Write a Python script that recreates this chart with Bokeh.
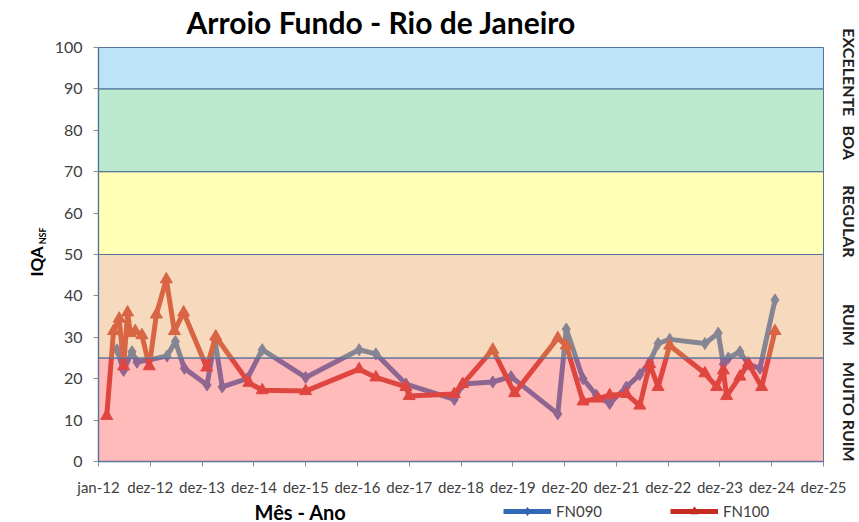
import pandas as pd
from bokeh.plotting import figure
from bokeh.models import Range1d, FixedTicker, LinearAxis, BoxAnnotation, Legend, LegendItem, Label
from bokeh.embed import file_html
from bokeh.resources import INLINE

# ---------------- data ----------------
title_text = "Arroio Fundo - Rio de Janeiro"
x_label_text = "Mês - Ano"
y_label_text = "IQA"
y_label_sub = "NSF"
x_tick_labels = ["jan-12", "dez-12", "dez-13", "dez-14", "dez-15", "dez-16", "dez-17",
                 "dez-18", "dez-19", "dez-20", "dez-21", "dez-22", "dez-23", "dez-24", "dez-25"]
y_ticks = [0, 10, 20, 30, 40, 50, 60, 70, 80, 90, 100]

band_names = ["MUITO RUIM", "RUIM", "REGULAR", "BOA", "EXCELENTE"]
band_bottoms = [0, 25, 50, 70, 90]
band_tops = [25, 50, 70, 90, 100]
band_colors = ["#FF6666", "#EDAA6C", "#FFFF5A", "#6ACF93", "#6CC2EA"]
band_label_pos = [12, 33, 58, 77, 94]

fn090_dates = ["2012-05-10", "2012-06-26", "2012-08-24", "2012-09-28", "2012-12-19",
               "2013-04-28", "2013-06-26", "2013-08-28", "2014-02-04", "2014-03-31",
               "2014-05-22", "2014-11-14", "2015-02-28", "2015-12-31", "2017-01-11",
               "2017-05-09", "2017-12-07", "2018-11-13", "2019-01-11", "2019-08-11",
               "2019-12-18", "2020-11-11", "2021-01-10", "2021-05-08", "2021-08-10",
               "2021-11-12", "2022-03-10", "2022-06-12", "2022-08-21", "2022-10-19",
               "2023-01-09", "2023-09-14", "2023-12-17", "2024-01-22", "2024-02-26",
               "2024-05-18", "2024-07-16", "2024-10-06", "2025-01-20"]
fn090_values = [27.0, 22.0, 26.5, 24.0, 24.5,
                25.5, 29.0, 22.5, 18.5, 29.5,
                18.0, 20.0, 27.0, 20.3, 27.0,
                26.0, 18.7, 15.0, 18.7, 19.2,
                20.5, 11.5, 32.0, 20.0, 16.0,
                14.0, 18.0, 21.0, 24.0, 28.5,
                29.5, 28.5, 31.0, 23.5, 25.0,
                26.5, 23.5, 22.5, 39.0]

fn100_dates = ["2012-02-28", "2012-04-16", "2012-05-26", "2012-06-26", "2012-07-24",
               "2012-08-12", "2012-09-16", "2012-11-02", "2012-12-24", "2013-02-12",
               "2013-04-23", "2013-06-19", "2013-08-23", "2014-02-02", "2014-04-06",
               "2014-11-26", "2015-02-28", "2015-12-31", "2017-01-11", "2017-05-09",
               "2017-12-07", "2017-12-30", "2018-11-13", "2019-01-11", "2019-08-11",
               "2020-01-11", "2020-11-11", "2021-01-10", "2021-05-08", "2021-08-21",
               "2021-11-12", "2022-03-10", "2022-06-12", "2022-08-21", "2022-10-19",
               "2023-01-09", "2023-09-14", "2023-12-06", "2024-01-22", "2024-02-14",
               "2024-05-18", "2024-07-16", "2024-10-18", "2025-01-20"]
fn100_values = [11.0, 31.5, 34.5, 23.0, 36.0,
                31.0, 31.5, 30.5, 23.0, 35.5,
                44.0, 31.5, 36.0, 22.7, 30.2,
                19.0, 17.2, 17.0, 22.3, 20.3,
                18.0, 15.8, 16.3, 18.7, 27.0,
                16.5, 29.8, 28.0, 14.5, 15.2,
                16.0, 16.3, 13.5, 23.5, 18.0,
                28.0, 21.3, 18.0, 22.0, 15.8,
                20.5, 23.7, 18.0, 31.5]

BASE = pd.Timestamp("2012-01-01")
TICK_STEP = 365


def to_days(dates):
    return [(pd.Timestamp(d) - BASE).days for d in dates]


x090 = to_days(fn090_dates)
x100 = to_days(fn100_dates)
x_ticks = [i * TICK_STEP for i in range(len(x_tick_labels))]
X0, X1 = x_ticks[0], x_ticks[-1]
Y0, Y1 = y_ticks[0], y_ticks[-1]

FONT = "Lato"
TXT = "#404040"

# ---------------- layout (pixels) ----------------
W, H = 859, 522
FRAME_LEFT = 52                     # the frame covers the rest of the canvas
PLOT_L, PLOT_R, PLOT_T, PLOT_B = 98, 823, 47, 461   # value area inside it
kx = (X1 - X0) / (PLOT_R - PLOT_L)
ky = (Y1 - Y0) / (PLOT_B - PLOT_T)
x_range = Range1d(X0 - (PLOT_L - FRAME_LEFT) * kx, X1 + (W - PLOT_R) * kx)
y_range = Range1d(Y0 - (H - PLOT_B) * ky, Y1 + PLOT_T * ky)

p = figure(width=W, height=H, output_backend="svg", toolbar_location=None,
           x_range=x_range, y_range=y_range,
           min_border_left=FRAME_LEFT, min_border_right=0, min_border_top=0, min_border_bottom=0,
           background_fill_color="white", border_fill_color="white")
p.outline_line_color = None
p.xgrid.grid_line_color = None
p.ygrid.grid_line_color = None

# main axes, fixed at the value-area edges
p.xaxis.ticker = FixedTicker(ticks=x_ticks)
p.xaxis.major_label_overrides = {t: lab for t, lab in zip(x_ticks, x_tick_labels)}
p.xaxis.fixed_location = Y0
p.xaxis.bounds = (X0, X1)
p.yaxis.ticker = FixedTicker(ticks=y_ticks)
p.yaxis.fixed_location = X0
p.yaxis.bounds = (Y0, Y1)
for ax in (p.xaxis[0], p.yaxis[0]):
    ax.axis_line_color = "#5B7DA8"
    ax.axis_line_width = 1.5
    ax.major_tick_line_color = "#8C8C8C"
    ax.major_tick_out = 5
    ax.major_tick_in = 0
    ax.minor_tick_line_color = None
    ax.major_label_text_font = FONT
    ax.major_label_text_color = TXT
p.xaxis.major_label_text_font_size = "15px"
p.yaxis.major_label_text_font_size = "16px"
p.xaxis.major_label_standoff = 11
p.yaxis.major_label_standoff = 11

# y-axis title "IQA" with subscript "NSF" (extra left axis)
ysub_pos = 54.5
ylab = LinearAxis(ticker=FixedTicker(ticks=[ysub_pos]), major_label_overrides={ysub_pos: y_label_sub},
                  bounds=(Y0, Y1))
ylab.major_label_orientation = "vertical"
ylab.major_label_text_font = FONT
ylab.major_label_text_font_size = "9px"
ylab.major_label_text_font_style = "bold"
ylab.major_label_text_color = "black"
ylab.major_label_standoff = 4
ylab.axis_label = y_label_text
ylab.axis_label_text_font = FONT
ylab.axis_label_text_font_size = "17px"
ylab.axis_label_text_font_style = "bold"
ylab.axis_label_text_color = "black"
ylab.axis_label_standoff = -12
ylab.axis_line_color = None
ylab.major_tick_line_color = None
ylab.minor_tick_line_color = None
ylab.major_tick_out = 0
ylab.major_tick_in = 0
p.add_layout(ylab, "left")

# right axis with band names, fixed at the right edge of the value area
right = LinearAxis(ticker=FixedTicker(ticks=band_label_pos),
                   major_label_overrides={pos: name for pos, name in zip(band_label_pos, band_names)})
right.fixed_location = X1
right.major_label_orientation = "vertical"
right.major_label_text_font = FONT
right.major_label_text_font_size = "16px"
right.major_label_text_font_style = "bold"
right.major_label_text_color = "#202020"
right.axis_line_color = None
right.major_tick_line_color = None
right.minor_tick_line_color = None
right.major_tick_out = 0
right.major_tick_in = 0
right.major_label_standoff = 16
p.add_layout(right, "right")

# series
c090 = "#3267B5"
c100 = "#C62C22"
l1 = p.line(x090, fn090_values, line_color=c090, line_width=5)
m1 = p.scatter(x090, fn090_values, marker="diamond", size=12, fill_color=c090, line_color=c090)
l2 = p.line(x100, fn100_values, line_color=c100, line_width=5)
m2 = p.scatter(x100, fn100_values, marker="triangle", size=12, fill_color=c100, line_color=c100)

# quality bands, translucent, over the lines
for b, t, c in zip(band_bottoms, band_tops, band_colors):
    p.add_layout(BoxAnnotation(left=X0, right=X1, bottom=b, top=t, fill_color=c, fill_alpha=0.45,
                               line_color="#56739C", line_width=1, line_alpha=1))

# chart title
p.add_layout(Label(x=PLOT_L + 88 - FRAME_LEFT, y=H - 21, x_units="screen", y_units="screen",
                   text=title_text, text_font=FONT, text_font_size="30px", text_font_style="bold",
                   text_color="black", text_align="left", text_baseline="middle"))

# x-axis title
xlab_pos = 1424
p.add_layout(Label(x=xlab_pos, y=11, x_units="data", y_units="screen", text=x_label_text,
                   text_font=FONT, text_font_size="20px", text_font_style="bold",
                   text_color="black", text_align="center", text_baseline="middle"))

# legend
legend = Legend(items=[LegendItem(label="FN090", renderers=[l1, m1]),
                       LegendItem(label="FN100", renderers=[l2, m2])],
                orientation="horizontal", location=(405 + PLOT_L - FRAME_LEFT, 1),
                glyph_width=48, glyph_height=20, label_standoff=5, spacing=68,
                padding=0, margin=0, border_line_color=None, background_fill_alpha=0,
                label_text_font=FONT, label_text_font_size="15px", label_text_color=TXT)
p.add_layout(legend, "center")

open("out.html", "w").write(file_html(p, INLINE))
